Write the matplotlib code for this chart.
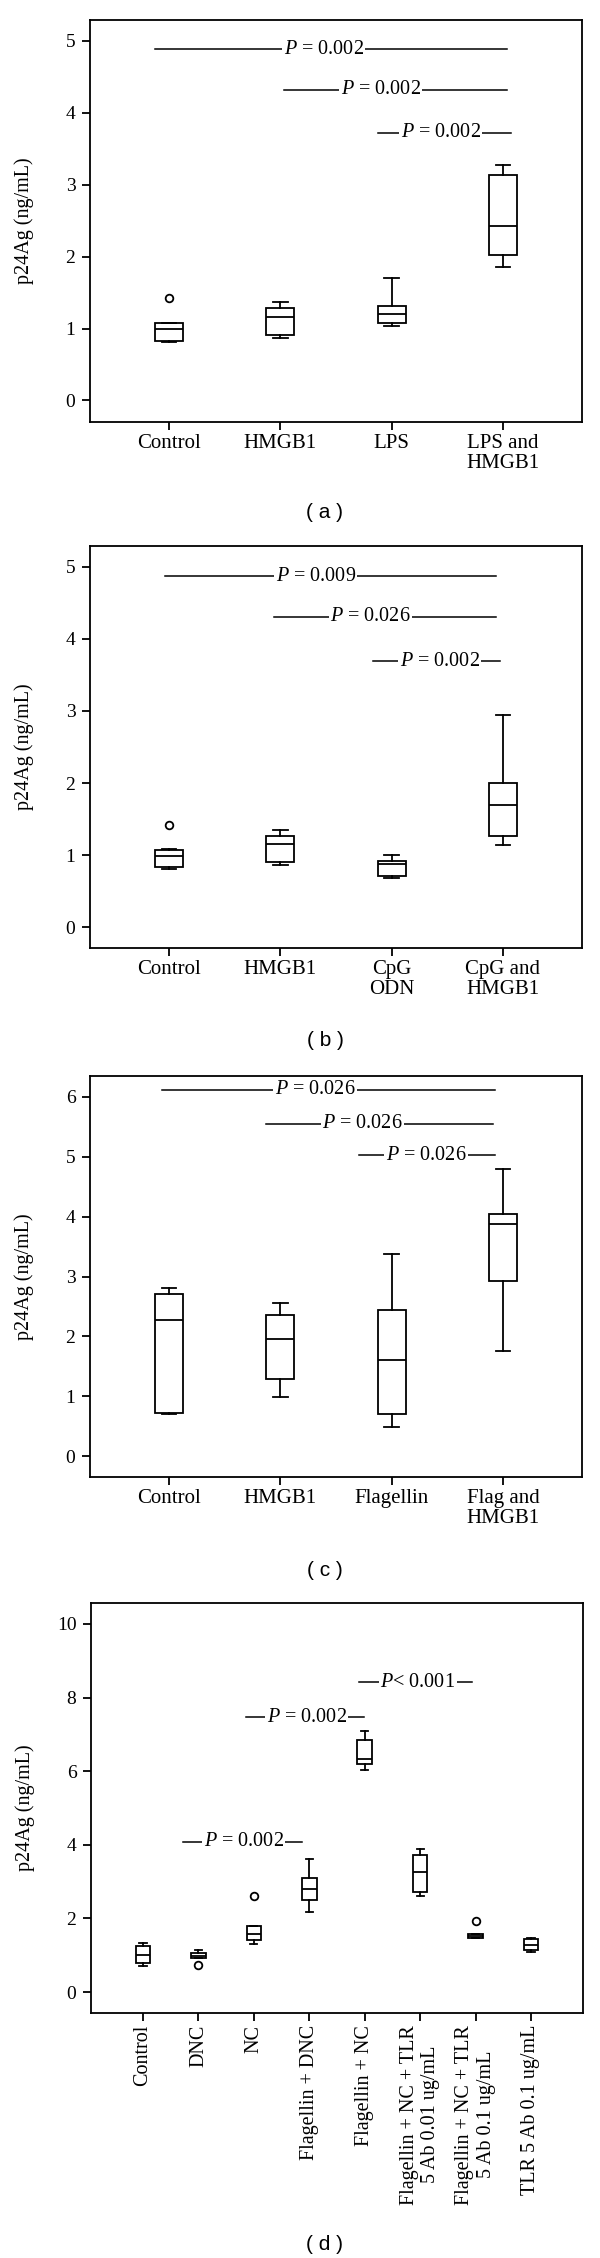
import matplotlib
matplotlib.use('Agg')
import matplotlib.pyplot as plt
import numpy as np

plt.rcParams['font.family'] = 'Liberation Serif'
plt.rcParams['mathtext.fontset'] = 'custom'
plt.rcParams['mathtext.it'] = 'Liberation Serif:italic'
plt.rcParams['mathtext.rm'] = 'Liberation Serif'

# ---- panel (a) ----
a_groups = ['Control', 'HMGB1', 'LPS', 'LPS and\nHMGB1']
a_med = [1.00, 1.16, 1.20, 2.42]
a_q1 = [0.83, 0.91, 1.07, 2.02]
a_q3 = [1.08, 1.28, 1.31, 3.13]
a_lo = [0.81, 0.875, 1.03, 1.85]
a_hi = [1.08, 1.365, 1.70, 3.28]
a_out = [[1.42], [], [], []]
a_sig = [(0.87, 4.04, 4.88, 2.39, '$P$ = 0.002'),
         (2.03, 4.04, 4.32, 2.90, '$P$ = 0.002'),
         (2.88, 4.07, 3.72, 3.44, '$P$ = 0.002')]

# ---- panel (b) ----
b_groups = ['Control', 'HMGB1', 'CpG\nODN', 'CpG and\nHMGB1']
b_med = [0.99, 1.15, 0.88, 1.69]
b_q1 = [0.835, 0.91, 0.705, 1.27]
b_q3 = [1.07, 1.27, 0.92, 2.00]
b_lo = [0.80, 0.86, 0.68, 1.14]
b_hi = [1.08, 1.35, 1.00, 2.94]
b_out = [[1.415], [], [], []]
b_sig = [(0.96, 3.94, 4.87, 2.32, '$P$ = 0.009'),
         (1.94, 3.94, 4.31, 2.81, '$P$ = 0.026'),
         (2.83, 3.97, 3.69, 3.43, '$P$ = 0.002')]

# ---- panel (c) ----
c_groups = ['Control', 'HMGB1', 'Flagellin', 'Flag and\nHMGB1']
c_med = [2.28, 1.95, 1.60, 3.87]
c_q1 = [0.72, 1.28, 0.70, 2.93]
c_q3 = [2.71, 2.35, 2.44, 4.05]
c_lo = [0.71, 0.99, 0.48, 1.75]
c_hi = [2.81, 2.55, 3.37, 4.80]
c_out = [[], [], [], []]
c_sig = [(0.94, 3.93, 6.12, 2.31, '$P$ = 0.026'),
         (1.87, 3.91, 5.55, 2.74, '$P$ = 0.026'),
         (2.71, 3.93, 5.03, 3.31, '$P$ = 0.026')]

# ---- panel (d) ----
d_groups = ['Control', 'DNC', 'NC', 'Flagellin + DNC', 'Flagellin + NC',
            'Flagellin + NC + TLR\n5 Ab 0.01 ug/mL',
            'Flagellin + NC + TLR\n5 Ab 0.1 ug/mL', 'TLR 5 Ab 0.1 ug/mL']
d_med = [1.00, 0.98, 1.59, 2.81, 6.32, 3.27, 1.52, 1.28]
d_q1 = [0.80, 0.93, 1.41, 2.50, 6.19, 2.73, 1.46, 1.14]
d_q3 = [1.25, 1.07, 1.80, 3.09, 6.85, 3.72, 1.59, 1.43]
d_lo = [0.71, 0.93, 1.30, 2.18, 6.03, 2.61, 1.46, 1.10]
d_hi = [1.32, 1.14, 1.80, 3.62, 7.10, 3.89, 1.59, 1.47]
d_out = [[], [0.74], [2.61], [], [], [], [1.94], []]
d_sig = [(1.72, 3.87, 4.08, 2.82, '$P$ = 0.002'),
         (2.85, 4.99, 7.46, 3.95, '$P$ = 0.002'),
         (4.90, 6.94, 8.41, 5.96, '$P$< 0.001')]

W, H = 600, 2258
fig = plt.figure(figsize=(W / 100, H / 100), dpi=100)


def make_axes(top, bottom, left=90, right=582):
    return fig.add_axes([left / W, 1 - bottom / H, (right - left) / W, (bottom - top) / H])


def draw_panel(ax, groups, med, q1, q3, lo, hi, out, sig, ylim, yticks,
               width, capw, xpad, rot=False):
    stats = []
    for i in range(len(groups)):
        stats.append(dict(med=med[i], q1=q1[i], q3=q3[i], whislo=lo[i],
                          whishi=hi[i], fliers=out[i]))
    pos = np.arange(1, len(groups) + 1)
    lw = 1.3
    ax.bxp(stats, positions=pos, widths=width, capwidths=capw,
           patch_artist=True, manage_ticks=False,
           boxprops=dict(facecolor='white', edgecolor='black', linewidth=lw),
           medianprops=dict(color='black', linewidth=lw),
           whiskerprops=dict(color='black', linewidth=lw),
           capprops=dict(color='black', linewidth=lw),
           flierprops=dict(marker='o', markerfacecolor='white',
                           markeredgecolor='black', markersize=5.5,
                           markeredgewidth=1.3))
    for x0, x1, y, tx, lab in sig:
        ax.plot([x0, x1], [y, y], color='black', lw=1.1, zorder=3)
        ax.text(tx, y, lab, ha='center', va='center', fontsize=14.5, zorder=4,
                bbox=dict(fc='white', ec='none', pad=1.0))
    ax.set_xlim(1 - xpad, len(groups) + xpad)
    ax.set_ylim(*ylim)
    ax.set_yticks(yticks)
    ax.set_yticklabels([str(t) for t in yticks], fontsize=14)
    ax.set_xticks(pos)
    if rot:
        ax.set_xticklabels(groups, fontsize=14.5, rotation=90, va='top',
                           ha='center', multialignment='center',
                           linespacing=1.15)
    else:
        ax.set_xticklabels(groups, fontsize=15, multialignment='center',
                           linespacing=1.05)
    ax.tick_params(axis='both', direction='out', length=5.5, width=1.3,
                   pad=5, color='black')
    ax.tick_params(axis='x', pad=3)
    for s in ax.spines.values():
        s.set_linewidth(1.3)
    ax.set_ylabel('p24Ag (ng/mL)', fontsize=14.5)
    ax.yaxis.set_label_coords(-0.114, 0.5)


ax_a = make_axes(20, 422)
draw_panel(ax_a, a_groups, a_med, a_q1, a_q3, a_lo, a_hi, a_out, a_sig,
           (-0.30, 5.29), [0, 1, 2, 3, 4, 5], 0.25, 0.13, 0.71)

ax_b = make_axes(546, 948)
draw_panel(ax_b, b_groups, b_med, b_q1, b_q3, b_lo, b_hi, b_out, b_sig,
           (-0.29, 5.29), [0, 1, 2, 3, 4, 5], 0.25, 0.13, 0.71)

ax_c = make_axes(1076, 1477)
draw_panel(ax_c, c_groups, c_med, c_q1, c_q3, c_lo, c_hi, c_out, c_sig,
           (-0.35, 6.35), [0, 1, 2, 3, 4, 5, 6], 0.25, 0.13, 0.71)

ax_d = make_axes(1603, 2013, left=91, right=583)
draw_panel(ax_d, d_groups, d_med, d_q1, d_q3, d_lo, d_hi, d_out, d_sig,
           (-0.57, 10.57), [0, 2, 4, 6, 8, 10], 0.265, 0.13, 0.94, rot=True)

for lab, yc in [('( a )', 512), ('( b )', 1040), ('( c )', 1570), ('( d )', 2244)]:
    fig.text(325 / W, 1 - yc / H, lab, ha='center', va='center',
             fontsize=15, family='Liberation Sans')

fig.savefig('out.png', dpi=100)
